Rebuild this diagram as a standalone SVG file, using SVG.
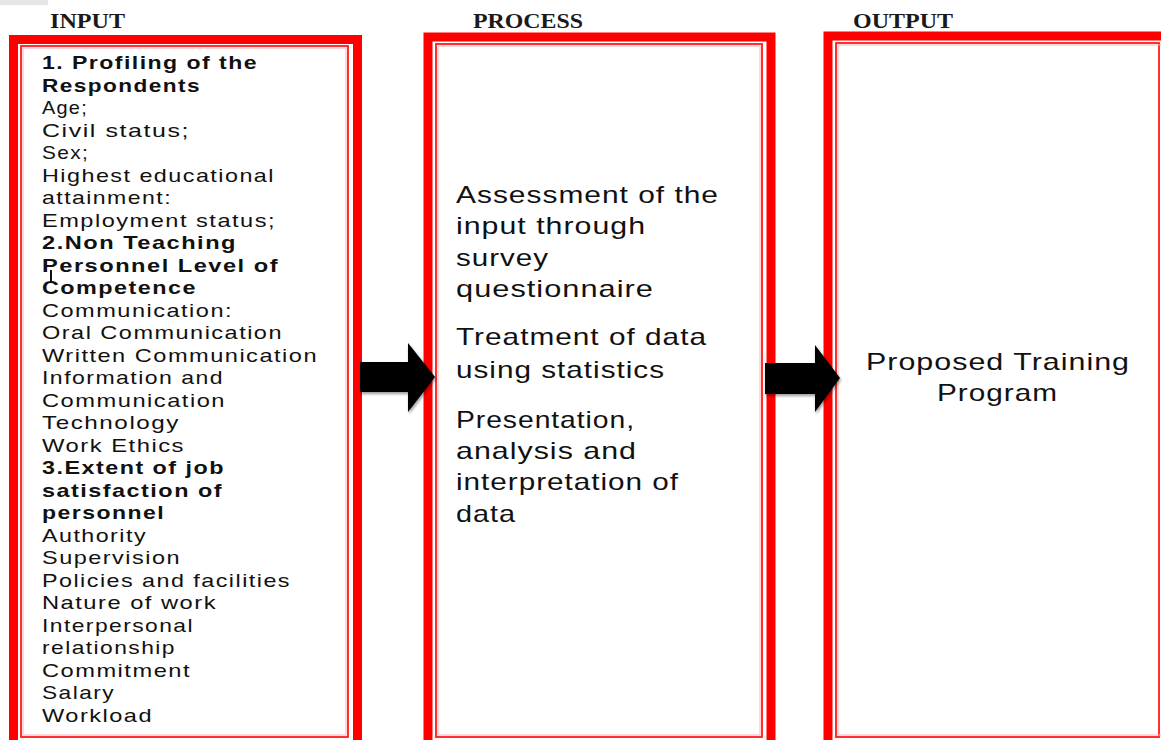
<svg xmlns="http://www.w3.org/2000/svg" width="1161" height="740" viewBox="0 0 1161 740">
<style>
.outer{fill:none;stroke:#ff0000;stroke-width:9}
.inner{fill:none;stroke:#ff1a1a;stroke-width:1.8}
.pink{fill:none;stroke:#ffb3b3;stroke-width:1}
.hdr{font-family:"Liberation Serif",serif;font-size:20px;font-weight:bold;fill:#1a1a1a}
.t{font-family:"Liberation Sans",Arial,sans-serif;font-size:19px;letter-spacing:1.2px;fill:#111}
.b{font-weight:bold}
.p{font-family:"Liberation Sans",Arial,sans-serif;font-size:24px;letter-spacing:0.8px;fill:#111}
.arrow{fill:#000}
</style>
<defs>
<filter id="sh" x="-20%" y="-20%" width="140%" height="140%">
<feGaussianBlur in="SourceAlpha" stdDeviation="1.5"/>
<feOffset dx="1" dy="2" result="o"/>
<feComponentTransfer><feFuncA type="linear" slope="0.4"/></feComponentTransfer>
<feMerge><feMergeNode/><feMergeNode in="SourceGraphic"/></feMerge>
</filter>
</defs>
<rect x="0" y="0" width="48" height="5" fill="#e6e6e6"/>
<g id="headers">
<text class="hdr" x="50" y="28" textLength="75" lengthAdjust="spacingAndGlyphs">INPUT</text>
<text class="hdr" x="473" y="28" textLength="110" lengthAdjust="spacingAndGlyphs">PROCESS</text>
<text class="hdr" x="853" y="28" textLength="100" lengthAdjust="spacingAndGlyphs">OUTPUT</text>
</g>
<g id="input">
<rect class="outer" x="13.5" y="39.5" width="344" height="730"/>
<rect class="inner" x="21" y="46" width="327" height="691"/>
<rect class="pink" x="23" y="48" width="323" height="687"/>
<text class="t b" x="42" y="69" textLength="216" lengthAdjust="spacingAndGlyphs">1. Profiling of the</text>
<text class="t b" x="42" y="91.5" textLength="159" lengthAdjust="spacingAndGlyphs">Respondents</text>
<text class="t" x="42" y="114" textLength="46" lengthAdjust="spacingAndGlyphs">Age;</text>
<text class="t" x="42" y="136.5" textLength="148" lengthAdjust="spacingAndGlyphs">Civil status;</text>
<text class="t" x="42" y="159" textLength="47" lengthAdjust="spacingAndGlyphs">Sex;</text>
<text class="t" x="42" y="181.5" textLength="233" lengthAdjust="spacingAndGlyphs">Highest educational</text>
<text class="t" x="42" y="204" textLength="130" lengthAdjust="spacingAndGlyphs">attainment:</text>
<text class="t" x="42" y="226.5" textLength="234" lengthAdjust="spacingAndGlyphs">Employment status;</text>
<text class="t b" x="42" y="249" textLength="195" lengthAdjust="spacingAndGlyphs">2.Non Teaching</text>
<text class="t b" x="42" y="271.5" textLength="237" lengthAdjust="spacingAndGlyphs">Personnel Level of</text>
<text class="t b" x="42" y="294" textLength="155" lengthAdjust="spacingAndGlyphs">Competence</text>
<text class="t" x="42" y="316.5" textLength="191" lengthAdjust="spacingAndGlyphs">Communication:</text>
<text class="t" x="42" y="339" textLength="241" lengthAdjust="spacingAndGlyphs">Oral Communication</text>
<text class="t" x="42" y="361.5" textLength="276" lengthAdjust="spacingAndGlyphs">Written Communication</text>
<text class="t" x="42" y="384" textLength="182" lengthAdjust="spacingAndGlyphs">Information and</text>
<text class="t" x="42" y="406.5" textLength="184" lengthAdjust="spacingAndGlyphs">Communication</text>
<text class="t" x="42" y="429" textLength="138" lengthAdjust="spacingAndGlyphs">Technology</text>
<text class="t" x="42" y="451.5" textLength="143" lengthAdjust="spacingAndGlyphs">Work Ethics</text>
<text class="t b" x="42" y="474" textLength="183" lengthAdjust="spacingAndGlyphs">3.Extent of job</text>
<text class="t b" x="42" y="496.5" textLength="181" lengthAdjust="spacingAndGlyphs">satisfaction  of</text>
<text class="t b" x="42" y="519" textLength="123" lengthAdjust="spacingAndGlyphs">personnel</text>
<text class="t" x="42" y="541.5" textLength="105" lengthAdjust="spacingAndGlyphs">Authority</text>
<text class="t" x="42" y="564" textLength="139" lengthAdjust="spacingAndGlyphs">Supervision</text>
<text class="t" x="42" y="586.5" textLength="249" lengthAdjust="spacingAndGlyphs">Policies and facilities</text>
<text class="t" x="42" y="609" textLength="175" lengthAdjust="spacingAndGlyphs">Nature of work</text>
<text class="t" x="42" y="631.5" textLength="152" lengthAdjust="spacingAndGlyphs">Interpersonal</text>
<text class="t" x="42" y="654" textLength="134" lengthAdjust="spacingAndGlyphs">relationship</text>
<text class="t" x="42" y="676.5" textLength="149" lengthAdjust="spacingAndGlyphs">Commitment</text>
<text class="t" x="42" y="699" textLength="73" lengthAdjust="spacingAndGlyphs">Salary</text>
<text class="t" x="42" y="721.5" textLength="111" lengthAdjust="spacingAndGlyphs">Workload</text>
<line x1="51" y1="270" x2="51" y2="283" stroke="#111" stroke-width="2"/>
</g>
<g id="process">
<rect class="outer" x="428" y="37" width="343" height="730"/>
<rect class="inner" x="436" y="44" width="326" height="693"/>
<rect class="pink" x="438" y="46" width="322" height="689"/>
<text class="p" x="456" y="203" textLength="263" lengthAdjust="spacingAndGlyphs">Assessment of the</text>
<text class="p" x="456" y="234" textLength="190" lengthAdjust="spacingAndGlyphs">input through</text>
<text class="p" x="456" y="266" textLength="93" lengthAdjust="spacingAndGlyphs">survey</text>
<text class="p" x="456" y="297" textLength="198" lengthAdjust="spacingAndGlyphs">questionnaire</text>
<text class="p" x="456" y="345" textLength="251" lengthAdjust="spacingAndGlyphs">Treatment of data</text>
<text class="p" x="456" y="378" textLength="209" lengthAdjust="spacingAndGlyphs">using statistics</text>
<text class="p" x="456" y="428" textLength="179" lengthAdjust="spacingAndGlyphs">Presentation,</text>
<text class="p" x="456" y="459" textLength="181" lengthAdjust="spacingAndGlyphs">analysis and</text>
<text class="p" x="456" y="490" textLength="223" lengthAdjust="spacingAndGlyphs">interpretation of</text>
<text class="p" x="456" y="522" textLength="60" lengthAdjust="spacingAndGlyphs">data</text>
</g>
<g id="output">
<rect class="outer" x="828" y="36" width="400" height="730"/>
<rect class="inner" x="836" y="43" width="323" height="694"/>
<rect class="pink" x="838" y="45" width="330" height="690"/>
<text class="p" x="866" y="370" textLength="264" lengthAdjust="spacingAndGlyphs">Proposed Training</text>
<text class="p" x="937" y="401" textLength="121" lengthAdjust="spacingAndGlyphs">Program</text>
</g>
<g id="connectors" filter="url(#sh)">
<polygon class="arrow" points="360,362 408,362 408,343 435,377 408,412 408,392 360,392"/>
<polygon class="arrow" points="765,363 815,363 815,345 840,378 815,412 815,394 765,394"/>
</g>
</svg>
